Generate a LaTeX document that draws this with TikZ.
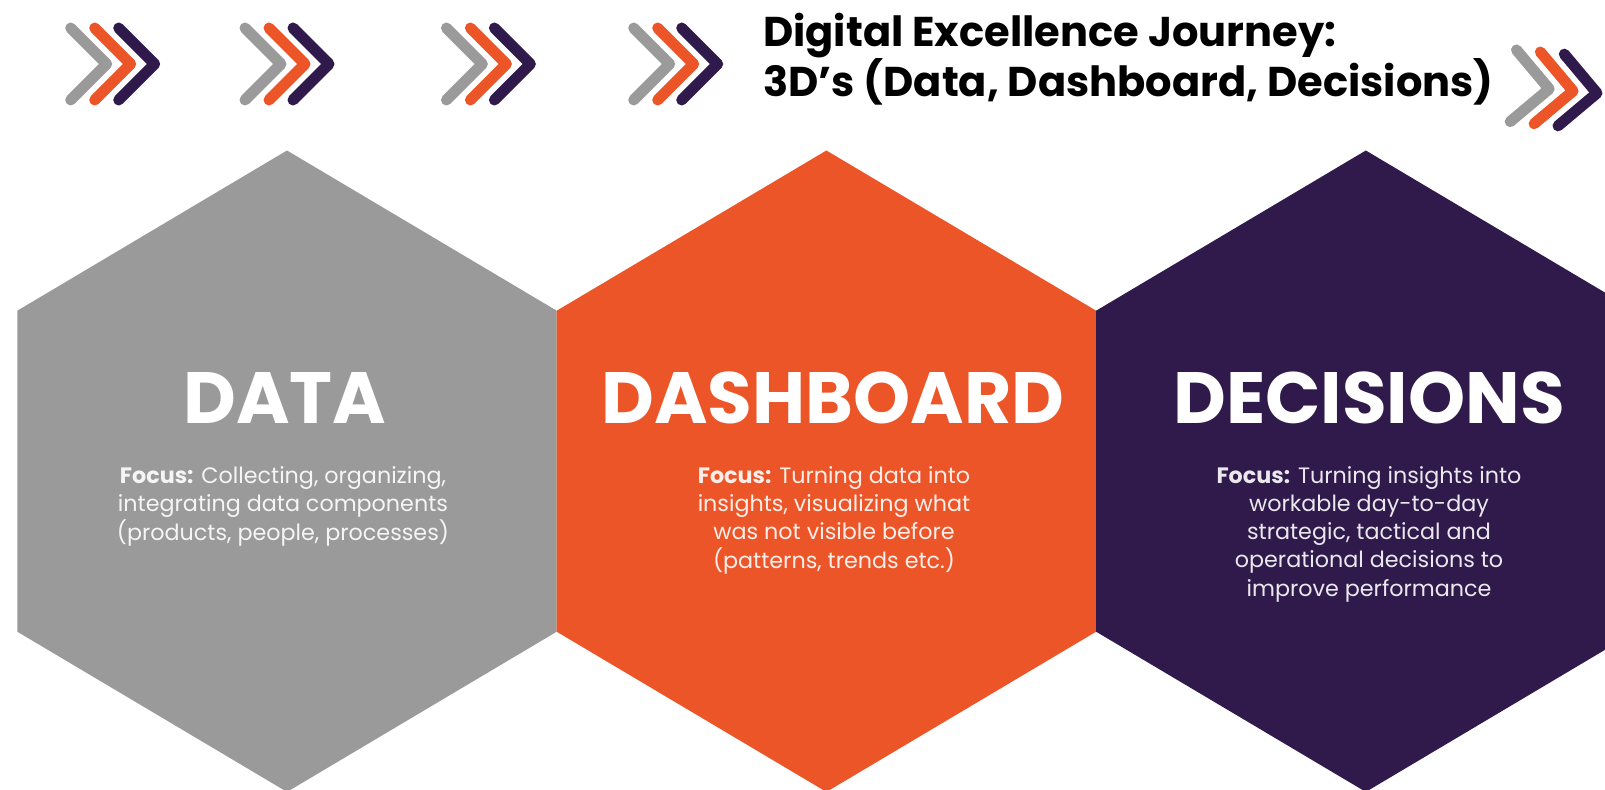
\documentclass[tikz,border=0pt]{standalone}
\usepackage{fontspec}
\setmainfont{Poppins}
\usetikzlibrary{positioning}

\definecolor{hexgray}{RGB}{154,154,154}
\definecolor{hexorange}{RGB}{236,85,40}
\definecolor{hexpurple}{RGB}{47,26,75}

\tikzset{chevron/.style={line width=0.33cm, line cap=round, line join=round}}
\tikzset{pics/chevron group/.style={code={
    \draw [chevron, hexgray]   ( 0,-36) -- (36,0) -- ( 0,36);
    \draw [chevron, hexorange] (24,-36) -- (60,0) -- (24,36);
    \draw [chevron, hexpurple] (48,-36) -- (84,0) -- (48,36);
}}}
\tikzset{pics/hex cell/.style={code={
    \fill (0,-320.7) -- (269.7,-160.5) -- (269.7,160.5) -- (0,320.7)
          -- (-269.7,160.5) -- (-269.7,-160.5) -- cycle;
}}}
\tikzset{title text/.style={font=\fontsize{35.5}{43.5}\selectfont\bfseries, align=left, inner sep=0pt}}
\tikzset{hex label/.style={text=white, font=\fontsize{62}{62}\selectfont\bfseries, inner sep=0pt, anchor=base}}
\tikzset{focus text/.style={text=white, text opacity=0.9, font=\fontsize{19}{24}\selectfont, align=center, inner sep=0pt, anchor=base}}

\begin{document}
\begin{tikzpicture}[x=0.03cm, y=-0.03cm]
  \useasboundingbox (0,0) rectangle (1605,790);
  \clip (0,0) rectangle (1605,790);

  % the three cells
  \pic [hexgray]   at ( 287.0,471.2) {hex cell};
  \pic [hexorange] at ( 826.4,471.2) {hex cell};
  \pic [hexpurple] at (1365.8,471.2) {hex cell};

  % chevrons along the top
  \pic at ( 70.7,64) {chevron group};
  \pic at (245.0,64) {chevron group};
  \pic at (446.4,64) {chevron group};
  \pic at (633.7,64) {chevron group};
  \pic [rotate=-5] at (1513.3,85.8) {chevron group};

  % base anchor of a multi-line node sits on its last line
  \node [title text, anchor=base west] (title) at (763,97)
        {Digital Excellence Journey:\\3D’s (Data, Dashboard, Decisions)};

  \node [hex label] (data)       at ( 284.6,423) {DATA};
  \node [hex label] (dashboard)  at ( 833.0,423) {DASHBOARD};
  \node [hex label] (decisions)  at (1369.0,423) {DECISIONS};

  \node [focus text] (data focus)      at ( 283,540)
        {\textbf{Focus:} Collecting, organizing,\\integrating data components\\(products, people, processes)};
  \node [focus text] (dashboard focus) at ( 834,568)
        {\textbf{Focus:} Turning data into\\insights, visualizing what\\was not visible before\\(patterns, trends etc.)};
  \node [focus text] (decisions focus) at (1369,596)
        {\textbf{Focus:} Turning insights into\\workable day-to-day\\strategic, tactical and\\operational decisions to\\improve performance};
\end{tikzpicture}
\end{document}
